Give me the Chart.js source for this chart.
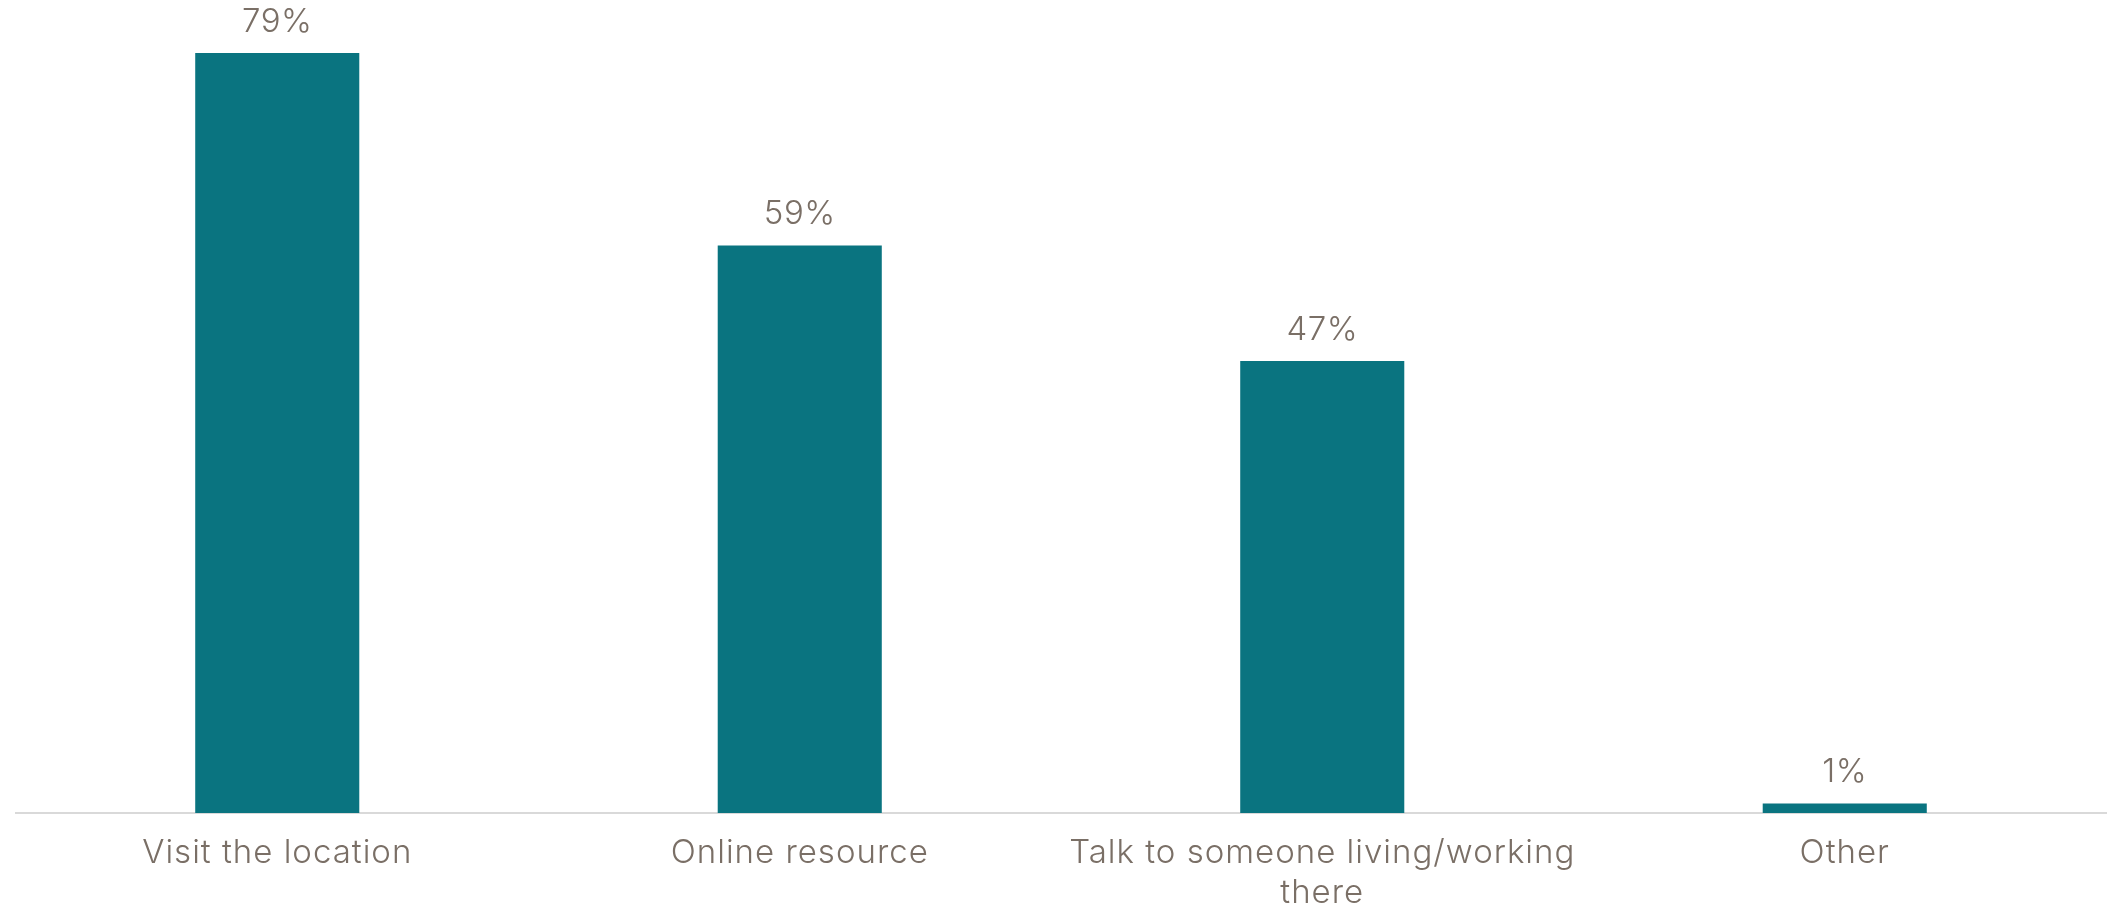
<!DOCTYPE html>
<html>
<head>
<meta charset="utf-8">
<script src="https://cdn.jsdelivr.net/npm/chart.js@4/dist/chart.umd.min.js"></script>
<style>
  html, body { margin: 0; padding: 0; background: #ffffff; }
  #wrap { width: 2119px; height: 906px; }
</style>
</head>
<body>
<div id="wrap"><canvas id="chart-bar" width="2119" height="906"></canvas></div>
<script>
const categories = [
  "Visit the location",
  "Online resource",
  ["Talk to someone living/working", "there"],
  "Other",
];
const shares = [79, 59, 47, 1];

const barColor = "#0a7480";
const textColor = "#7a6f66";
const fontFamily = "Inter, 'Open Sans', sans-serif";

// slightly tracked-out text for the category ticks
const letterSpacing = {
  id: "letterSpacing",
  beforeDraw(chart) {
    chart.ctx.letterSpacing = "1px";
  },
  afterDraw(chart) {
    chart.ctx.letterSpacing = "0px";
  },
};

// value labels sitting above each bar
const valueLabels = {
  id: "valueLabels",
  afterDatasetsDraw(chart) {
    const ctx = chart.ctx;
    const meta = chart.getDatasetMeta(0);
    ctx.save();
    ctx.letterSpacing = "0.5px";
    ctx.fillStyle = textColor;
    ctx.font = "300 33px " + fontFamily;
    ctx.textAlign = "center";
    ctx.textBaseline = "middle";
    meta.data.forEach((bar, i) => {
      ctx.fillText(shares[i] + "%", bar.x, bar.y - 31);
    });
    ctx.restore();
  },
};

const ctx = document.getElementById("chart-bar").getContext("2d");
new Chart(ctx, {
  type: "bar",
  data: {
    labels: categories,
    datasets: [
      {
        data: shares,
        backgroundColor: barColor,
        borderWidth: 0,
        barPercentage: 0.314,
        categoryPercentage: 1,
      },
    ],
  },
  options: {
    responsive: false,
    animation: false,
    layout: {
      padding: { top: 5, left: 16, right: 13, bottom: 0 },
    },
    plugins: {
      legend: { display: false },
      tooltip: { enabled: false },
    },
    scales: {
      y: {
        display: false,
        min: 0,
        max: 84,
      },
      x: {
        grid: { display: false, drawTicks: false },
        border: { display: true, color: "#d9d9d9", width: 2 },
        ticks: {
          color: textColor,
          padding: 20,
          maxRotation: 0,
          autoSkip: false,
          font: { family: fontFamily, size: 33, weight: 300, lineHeight: 1.22 },
        },
        afterFit(scale) {
          scale.height = 93;
        },
      },
    },
  },
  plugins: [letterSpacing, valueLabels],
});
</script>
</body>
</html>
